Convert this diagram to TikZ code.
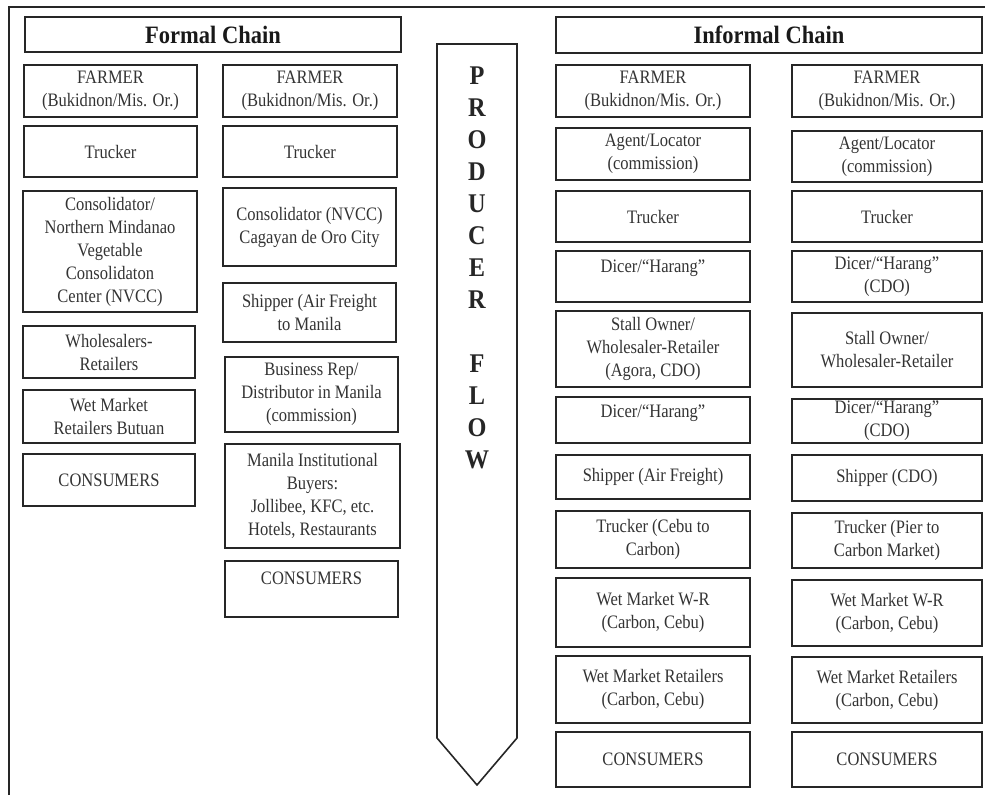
\documentclass[tikz,border=0pt]{standalone}
\usepackage{fontspec}
\setmainfont[FakeStretch=0.87]{Liberation Serif}
\newfontfamily\headfont[FakeStretch=0.9]{Liberation Serif}
\begin{document}
\begin{tikzpicture}[x=1pt,y=-1pt,
  frameline/.style={line width=1.8pt,draw=black!85},
  stage/.style={draw=black!85,line width=1.7pt,rectangle,inner sep=1pt,align=center,
    font=\fontsize{19}{23}\selectfont,text=black!80},
  chainhead/.style={stage,font=\headfont\bfseries\fontsize{25}{28}\selectfont,text=black!90},
  flowtext/.style={align=center,font=\headfont\bfseries\fontsize{27}{32}\selectfont,text=black!85}]
\useasboundingbox (0,0) rectangle (985,795);

% name, left, top, right, bottom, text
\newcommand\chainbox[7][stage]{%
  \node[#1,minimum width={(#5)-(#3)},minimum height={(#6)-(#4)}]
    (#2) at ({((#3)+(#5))/2},{((#4)+(#6))/2}) {#7};}
\newcommand\lift[2]{\raisebox{#1}[\height][\depth]{#2}}

% outer frame: top and left rules
\coordinate (frameBL) at (9,795);
\coordinate (frameTL) at (9,7);
\coordinate (frameTR) at (985,7);
\draw[frameline] (frameBL) -- (frameTL) -- (frameTR);

% chain headings
\chainbox[chainhead]{formal}{25}{17}{401}{52}{Formal Chain}
\chainbox[chainhead]{informal}{556}{17}{982}{53}{Informal Chain}

% formal chain, first column
\chainbox{a1}{24}{65}{197}{117}{FARMER\\(Bukidnon/Mis. Or.)}
\chainbox{a2}{24}{126}{197}{177}{Trucker}
\chainbox{a3}{23}{191}{197}{312}{Consolidator/\\Northern Mindanao\\Vegetable\\Consolidaton\\Center (NVCC)}
\chainbox{a4}{23}{326}{195}{378}{Wholesalers-\\Retailers}
\chainbox{a5}{23}{390}{195}{443}{Wet Market\\Retailers Butuan}
\chainbox{a6}{23}{454}{195}{506}{CONSUMERS}

% formal chain, second column
\chainbox{b1}{223}{65}{397}{117}{FARMER\\(Bukidnon/Mis. Or.)}
\chainbox{b2}{223}{126}{397}{177}{Trucker}
\chainbox{b3}{223}{188}{396}{266}{Consolidator (NVCC)\\Cagayan de Oro City}
\chainbox{b4}{223}{283}{396}{342}{Shipper (Air Freight\\to Manila}
\chainbox{b5}{225}{357}{398}{432}{Business Rep/\\Distributor in Manila\\(commission)}
\chainbox{b6}{225}{444}{400}{548}{Manila Institutional\\Buyers:\\Jollibee, KFC, etc.\\Hotels, Restaurants}
\chainbox{b7}{225}{561}{398}{617}{\lift{11pt}{CONSUMERS}}

% producer flow arrow
\coordinate (flowTL) at (437,44);
\coordinate (flowTR) at (517,44);
\coordinate (flowR) at (517,738);
\coordinate (flowTip) at (477,785);
\coordinate (flowL) at (437,738);
\draw[frameline,line width=1.6pt,line join=miter] (flowTL) -- (flowTR) -- (flowR) -- (flowTip) -- (flowL) -- cycle;
\node[flowtext] (flow) at (477,268) {P\\R\\O\\D\\U\\C\\E\\R\\[32pt]F\\L\\O\\W};

% informal chain, first column
\chainbox{c1}{556}{65}{750}{117}{FARMER\\(Bukidnon/Mis. Or.)}
\chainbox{c2}{556}{128}{750}{180}{Agent/Locator\\(commission)}
\chainbox{c3}{556}{191}{750}{242}{Trucker}
\chainbox{c4}{556}{251}{750}{302}{\lift{8pt}{Dicer/“Harang”}}
\chainbox{c5}{556}{311}{750}{387}{Stall Owner/\\Wholesaler-Retailer\\(Agora, CDO)}
\chainbox{c6}{556}{397}{750}{443}{\lift{7pt}{Dicer/“Harang”}}
\chainbox{c7}{556}{455}{750}{499}{Shipper (Air Freight)}
\chainbox{c8}{556}{511}{750}{568}{Trucker (Cebu to\\Carbon)}
\chainbox{c9}{556}{578}{750}{647}{Wet Market W-R\\(Carbon, Cebu)}
\chainbox{c10}{556}{656}{750}{723}{Wet Market Retailers\\(Carbon, Cebu)}
\chainbox{c11}{556}{732}{750}{787}{CONSUMERS}

% informal chain, second column
\chainbox{d1}{792}{65}{982}{117}{FARMER\\(Bukidnon/Mis. Or.)}
\chainbox{d2}{792}{131}{982}{182}{Agent/Locator\\(commission)}
\chainbox{d3}{792}{191}{982}{242}{Trucker}
\chainbox{d4}{792}{251}{982}{302}{Dicer/“Harang”\\(CDO)}
\chainbox{d5}{792}{313}{982}{387}{Stall Owner/\\Wholesaler-Retailer}
\chainbox{d6}{792}{399}{982}{443}{Dicer/“Harang”\\(CDO)}
\chainbox{d7}{792}{455}{982}{501}{Shipper (CDO)}
\chainbox{d8}{792}{513}{982}{568}{Trucker (Pier to\\Carbon Market)}
\chainbox{d9}{792}{580}{982}{646}{Wet Market W-R\\(Carbon, Cebu)}
\chainbox{d10}{792}{657}{982}{723}{Wet Market Retailers\\(Carbon, Cebu)}
\chainbox{d11}{792}{732}{982}{787}{CONSUMERS}
\end{tikzpicture}
\end{document}
